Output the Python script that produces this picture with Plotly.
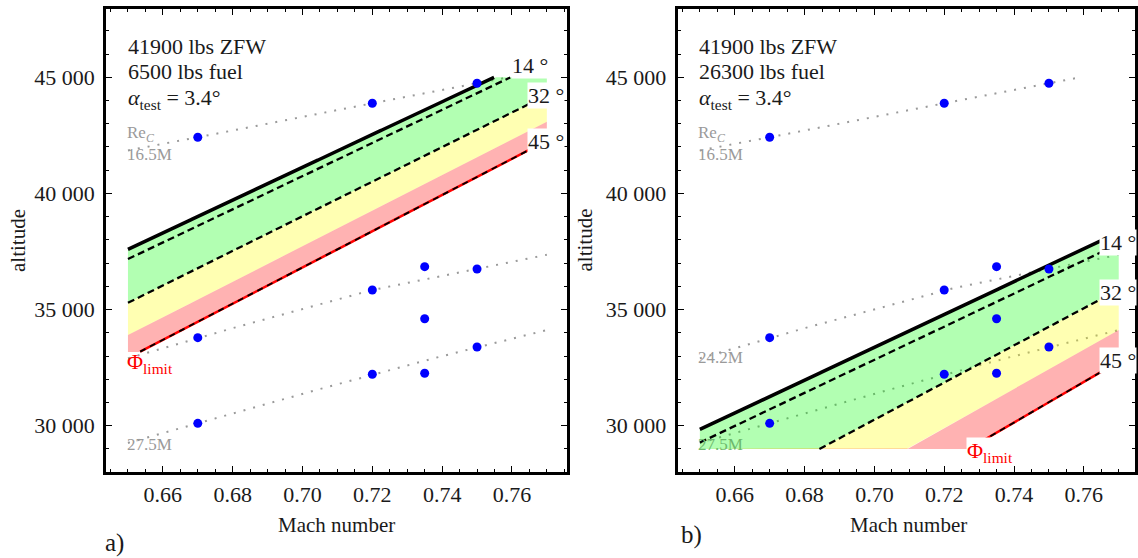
import numpy as np
import plotly.graph_objects as go

W, H = 1138, 558

# ---------------- data ----------------
# wind-tunnel test points (same in both panels)
pt_mach = [0.67, 0.72, 0.75, 0.735, 0.75, 0.72, 0.735, 0.67, 0.75, 0.72, 0.735, 0.67]
pt_alt = [42417, 43881, 44742, 36847, 36748, 35844, 34608, 33791, 33390, 32215, 32258, 30105]

# constant chord Reynolds number lines
re_mach = [0.65, 0.67, 0.72, 0.75, 0.77]
re_165M_alt = [41850, 42417, 43881, 44742, 45312]
re_242M_alt = [32900, 33791, 35844, 36748, 37360]
re_275M_alt = [29260, 30105, 32215, 33390, 34120]

# band boundaries (altitude at Mach 0.65 and 0.77)
band_mach = [0.65, 0.77]
# panel a) 6500 lbs fuel
a_solid_alt = [37593, 46066]
a_14_alt = [37175, 45743]
a_32_alt = [35293, 44230]
a_yr_alt = [33902, 43088]
a_phi_alt = [32918, 42270]
a_phi_start = 0.6534
a_phi_floor = 33180
# panel b) 26300 lbs fuel
b_solid_alt = [29841, 38326]
b_14_alt = [29277, 37829]
b_32_alt = [26260, 35860]
b_yr_alt = [23970, 34120]
b_phi_alt = [22280, 32760]
b_phi_start = 0.7305
b_phi_floor = 29000

alt_min, alt_max = 29000, 45000

xtick_vals = [0.66, 0.68, 0.70, 0.72, 0.74, 0.76]
ytick_vals = [30000, 35000, 40000, 45000]

# ---------------- helpers ----------------
SERIF = "Liberation Serif, Times New Roman, Times, serif"
grid = np.linspace(0.65, 0.77, 961)


def on_grid(xs, ys):
    return np.interp(grid, xs, ys)


def masked(y, lo=alt_min, hi=alt_max):
    out = np.array(y, dtype=float)
    out[(out < lo - 1e-6) | (out > hi + 1e-6)] = np.nan
    return out


def px_to_mach(px, panel):
    ref = 163.3 if panel == 0 else 736.7
    return 0.66 + (px - ref) / 3500.0


def py_to_alt(py):
    return 45000 - (py - 77.3) / 0.02323


def P(x, y):
    return x / W, 1 - y / H


fig = go.Figure()


def add_panel(panel, solid, b14, b32, byr, bphi, phi_start, phi_floor):
    xa = "x" if panel == 0 else "x2"
    ya = "y" if panel == 0 else "y2"
    common = dict(xaxis=xa, yaxis=ya, showlegend=False, hoverinfo="skip")

    # dotted Re lines
    for alts in (re_165M_alt, re_242M_alt, re_275M_alt):
        fig.add_trace(go.Scatter(x=grid, y=masked(on_grid(re_mach, alts)), mode="lines",
                                 line=dict(color="#9a9a9a", width=2, dash="2px,8px"), **common))

    s = on_grid(band_mach, solid)
    d14 = on_grid(band_mach, b14)
    d32 = on_grid(band_mach, b32)
    yr = on_grid(band_mach, byr)
    ph = on_grid(band_mach, bphi)
    ph_low = np.maximum(ph, phi_floor)

    def band(top, bot, color):
        top = np.clip(top, alt_min, alt_max)
        bot = np.clip(bot, alt_min, alt_max)
        fig.add_trace(go.Scatter(x=np.concatenate([grid, grid[::-1]]),
                                 y=np.concatenate([top, bot[::-1]]),
                                 fill="toself", fillcolor=color, mode="lines",
                                 line=dict(width=0, color=color), **common))

    band(s, d32, "rgba(0,255,0,0.30)")
    band(d32, yr, "rgba(255,255,0,0.30)")
    band(yr, ph_low, "rgba(255,0,0,0.30)")

    # boundary lines
    fig.add_trace(go.Scatter(x=grid, y=masked(s), mode="lines",
                             line=dict(color="black", width=3.5), **common))
    for d in (d14, d32):
        fig.add_trace(go.Scatter(x=grid, y=masked(d), mode="lines",
                                 line=dict(color="black", width=2.3, dash="7px,4px"), **common))
    phl = masked(ph)
    phl[grid < phi_start] = np.nan
    fig.add_trace(go.Scatter(x=grid, y=phl, mode="lines",
                             line=dict(color="red", width=2.5), **common))
    fig.add_trace(go.Scatter(x=grid, y=phl, mode="lines",
                             line=dict(color="black", width=1.8, dash="6px,5px"), **common))

    # test points
    fig.add_trace(go.Scatter(x=pt_mach, y=pt_alt, mode="markers",
                             marker=dict(color="#0000ff", size=9), **common))


add_panel(0, a_solid_alt, a_14_alt, a_32_alt, a_yr_alt, a_phi_alt, a_phi_start, a_phi_floor)
add_panel(1, b_solid_alt, b_14_alt, b_32_alt, b_yr_alt, b_phi_alt, b_phi_start, b_phi_floor)

# ---------------- axes ----------------
tickfont = dict(family=SERIF, size=22, color="#1a1a1a")
axcommon = dict(showline=True, linewidth=3, linecolor="black", mirror="allticks",
                ticks="inside", ticklen=6, tickwidth=1, tickcolor="black",
                showgrid=False, zeroline=False, tickfont=tickfont)
xcommon = dict(tickmode="array", tickvals=xtick_vals, tickformat=".2f",
               minor=dict(tickmode="linear", tick0=0.65, dtick=0.005, ticks="inside",
                          ticklen=3, tickcolor="black", showgrid=False),
               ticklabelstandoff=1, **axcommon)
ycommon = dict(tickmode="array", tickvals=ytick_vals, tickformat=",d",
               minor=dict(tickmode="linear", tick0=28000, dtick=1000, ticks="inside",
                          ticklen=3, tickcolor="black", showgrid=False),
               ticklabelstandoff=4, **axcommon)

ydom = [1 - 471.5 / H, 1 - 8.5 / H]
yrange = [py_to_alt(471.5), py_to_alt(8.5)]

fig.update_layout(
    width=W, height=H, margin=dict(l=0, r=0, t=0, b=0),
    paper_bgcolor="white", plot_bgcolor="white", showlegend=False,
    separators=". ",
    font=dict(family=SERIF, color="#1a1a1a"),
    xaxis=dict(domain=[106.5 / W, 568.5 / W], anchor="y",
               range=[px_to_mach(106.5, 0), px_to_mach(568.5, 0)], **xcommon),
    yaxis=dict(domain=ydom, anchor="x", range=yrange, **ycommon),
    xaxis2=dict(domain=[679.5 / W, 1.0], anchor="y2",
                range=[px_to_mach(679.5, 1), px_to_mach(1138, 1)], **xcommon),
    yaxis2=dict(domain=ydom, anchor="x2", range=yrange, **ycommon),
)

# ---------------- annotations ----------------
ann = []


def txt(text, x, y, size=22, color="#1a1a1a", xanchor="left", bg=None, angle=0):
    px, py = P(x, y)
    d = dict(text=text, x=px, y=py, xref="paper", yref="paper", xanchor=xanchor,
             yanchor="middle", showarrow=False, textangle=angle,
             font=dict(family=SERIF, size=size, color=color), borderpad=0)
    if bg:
        d["bgcolor"] = bg
    ann.append(d)


for x0, fuel in ((127, "6500 lbs fuel"), (700, "26300 lbs fuel")):
    txt("41900 lbs ZFW", x0, 46.7)
    txt(fuel, x0, 71.7)
    txt("<i>α</i><sub>test</sub> = 3.4°", x0, 99)

# Reynolds number labels
GRAY = "#9a9a9a"
GRAY_UNDER_GREEN = "#6cb86c"
for x0 in (126, 699):
    txt("Re<sub><i>C</i></sub>", x0, 134, size=17, color=GRAY)
    txt("16.5M", x0, 154, size=17, color=GRAY)
txt("24.2M", 699, 357, size=17, color=GRAY)
txt("27.5M", 126, 444, size=17, color=GRAY)
txt("27.5M", 699, 444, size=17, color=GRAY_UNDER_GREEN)

# angle labels
for t, x, y in (("14 °", 512, 65), ("32 °", 528, 95), ("45 °", 528, 141),
                ("14 °", 1102, 242), ("32 °", 1102, 292), ("45 °", 1102, 360)):
    txt(t, x, y, bg="white")

txt("Φ<sub>limit</sub>", 126, 363, color="red")
txt("Φ<sub>limit</sub>", 969, 452, color="red", bg="white")

# axis titles and panel tags
txt("altitude", 18, 240, size=21, xanchor="center", angle=-90)
txt("altitude", 587, 240, size=21, xanchor="center", angle=-90)
txt("Mach number", 337, 525, size=21, xanchor="center")
txt("Mach number", 911, 525, size=21, xanchor="center")
txt("a)", 115, 543, size=25, xanchor="center")
txt("b)", 693, 535, size=25, xanchor="center")

fig.update_layout(annotations=ann)

fig.write_html("out.html")
